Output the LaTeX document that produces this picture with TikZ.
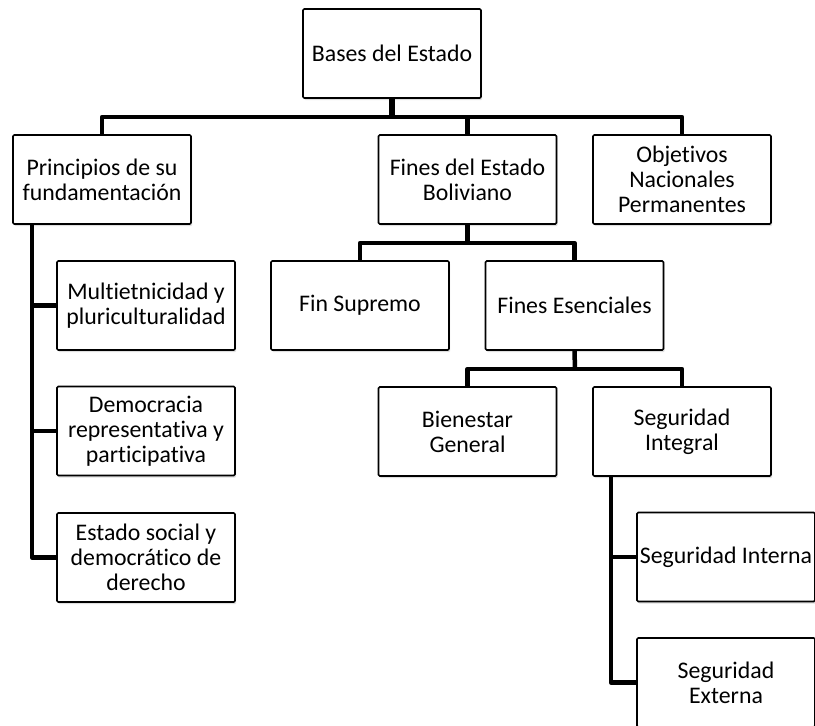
\documentclass[tikz,border=0pt]{standalone}
\usepackage{fontspec}
\setmainfont[Ligatures={NoCommon}]{Carlito}
\usetikzlibrary{shadows}
\begin{document}
\begin{tikzpicture}[x=1pt,y=-1pt,
  box/.style={draw=black, line width=1.6pt, fill=white, rounded corners=1.2pt,
    minimum width=178pt, minimum height=89pt, inner sep=1pt, align=center,
    font=\fontsize{23.8}{25}\selectfont,
    drop shadow={shadow xshift=1.2pt, shadow yshift=-2pt, opacity=0.25, fill=gray}},
  conn/.style={draw=black, line width=4.5pt, line join=round},
  rootconn/.style={draw=black, line width=6pt}]
\useasboundingbox (0,0) rectangle (815,726);
\begin{scope}
\clip (0,0) rectangle (815,726);
\node[box] (root) at (392,53.5) {Bases del Estado};
\node[box] (prin) at (102,179.5) {Principios de su\\fundamentación};
\node[box] (fines) at (467.5,179.5) {Fines del Estado\\Boliviano};
\node[box] (obj) at (682,179.5) {Objetivos\\Nacionales\\Permanentes};
\node[box] (multi) at (146,305.5) {Multietnicidad y\\pluriculturalidad};
\node[box] (demo) at (146,431) {Democracia\\representativa y\\participativa};
\node[box] (estado) at (146,557.5) {Estado social y\\democrático de\\derecho};
\node[box] (supremo) at (360,305.5) {Fin Supremo};
\node[box] (esenc) at (574.5,305.5) {Fines Esenciales};
\node[box] (bien) at (467.5,431.5) {Bienestar\\General};
\node[box] (segint) at (682,431.5) {Seguridad\\Integral};
\node[box] (interna) at (726,557) {Seguridad Interna};
\node[box] (externa) at (726,682.5) {Seguridad\\Externa};

\coordinate (b1) at (392,117);
\coordinate (b2) at (467.5,243);
\coordinate (b3) at (575,369);
\coordinate (pl) at (32,225);
\coordinate (sl) at (611,477);

\draw[conn] (prin.north) |- (b1) -| (obj.north);
\draw[conn] (b1) -| (fines.north);
\draw[rootconn] (root.south) -- (b1);

\draw[conn] (supremo.north) |- (b2) -| (esenc.north);
\draw[conn] (fines.south) -- (b2);

\draw[conn] (bien.north) |- (b3) -| (segint.north);
\draw[conn] (esenc.south) -- (b3);

\draw[conn] (pl) |- (estado.west);
\draw[conn] (multi.west -| pl) -- (multi.west);
\draw[conn] (demo.west -| pl) -- (demo.west);

\draw[conn] (sl) |- (externa.west);
\draw[conn] (interna.west -| sl) -- (interna.west);
\end{scope}
\end{tikzpicture}
\end{document}
